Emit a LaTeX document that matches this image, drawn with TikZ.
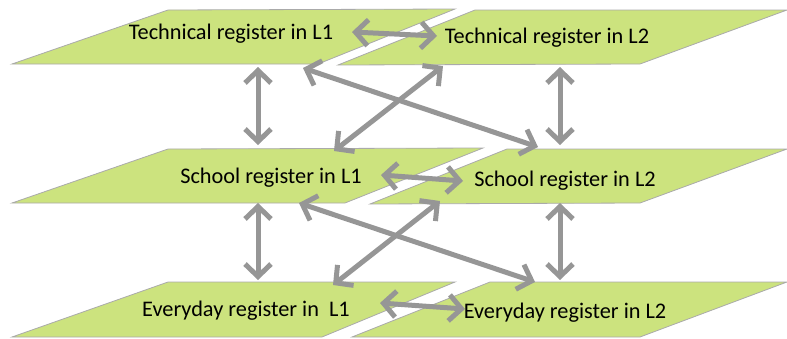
\documentclass[tikz,border=0pt]{standalone}
\usepackage{fontspec}
\setmainfont{Carlito}
\usetikzlibrary{arrows.meta}
\definecolor{leaf}{RGB}{204,227,126}
\definecolor{edgegray}{RGB}{170,170,170}
\definecolor{arrgray}{RGB}{150,150,150}
\tikzset{
  plane/.style={fill=leaf,draw=edgegray,line width=0.8pt},
  lbl/.style={font=\fontsize{22.3}{24}\selectfont,text=black,inner sep=0pt},
  link/.style={draw=arrgray,line width=5pt,
    {Straight Barb[length=12.5pt,width=26pt]}-{Straight Barb[length=12.5pt,width=26pt]}}
}
\begin{document}
\begin{tikzpicture}[x=1pt,y=-1pt]
\useasboundingbox (0,0) rectangle (787,338);
% planes: top layer
\path[plane] (12,64) -- (318,64) -- (455,9) -- (168,10) -- cycle;
\path[plane] (338,65) -- (640,64) -- (787,10) -- (475,10) -- cycle;
% middle layer
\path[plane] (12,203) -- (345,203) -- (483,148) -- (168,149) -- cycle;
\path[plane] (370,204) -- (640,203) -- (787,149) -- (507,149) -- cycle;
% bottom layer
\path[plane] (12,337) -- (322,337) -- (455,282) -- (168,282) -- cycle;
\path[plane] (352,337) -- (640,337) -- (787,282) -- (490,282) -- cycle;
% labels
\node[lbl] (t1) at (231,34) {Technical register in L1};
\node[lbl] (t2) at (547,38) {Technical register in L2};
\node[lbl] (s1) at (271,178) {School register in L1};
\node[lbl] (s2) at (565,181) {School register in L2};
\node[lbl] (e1) at (246,311) {Everyday register in\ \ L1};
\node[lbl] (e2) at (565,313) {Everyday register in L2};
% arrow end points
\coordinate (t1r) at (352,32);  \coordinate (t2l) at (437,36);
\coordinate (s1r) at (381,175); \coordinate (s2l) at (463,181);
\coordinate (e1r) at (380,303); \coordinate (e2l) at (465,309);
\coordinate (t1b) at (258,67);  \coordinate (s1t) at (258,145);
\coordinate (t2b) at (560,67);  \coordinate (s2t) at (560,145);
\coordinate (s1b) at (258,203); \coordinate (e1t) at (258,280);
\coordinate (s2b) at (560,203); \coordinate (e2t) at (560,280);
\coordinate (t1c) at (303,68);  \coordinate (s2c) at (538,147);
\coordinate (t2c) at (443,66);  \coordinate (s1c) at (334,151);
\coordinate (s1d) at (299,203); \coordinate (e2c) at (535,282);
\coordinate (s2d) at (440,201); \coordinate (e1c) at (333,285);
% connectors
\draw[link] (t1r) -- (t2l);
\draw[link] (s1r) -- (s2l);
\draw[link] (e1r) -- (e2l);
\draw[link] (t1b) -- (s1t);
\draw[link] (t2b) -- (s2t);
\draw[link] (s1b) -- (e1t);
\draw[link] (s2b) -- (e2t);
\draw[link] (t1c) -- (s2c);
\draw[link] (t2c) -- (s1c);
\draw[link] (s1d) -- (e2c);
\draw[link] (s2d) -- (e1c);
\end{tikzpicture}
\end{document}
